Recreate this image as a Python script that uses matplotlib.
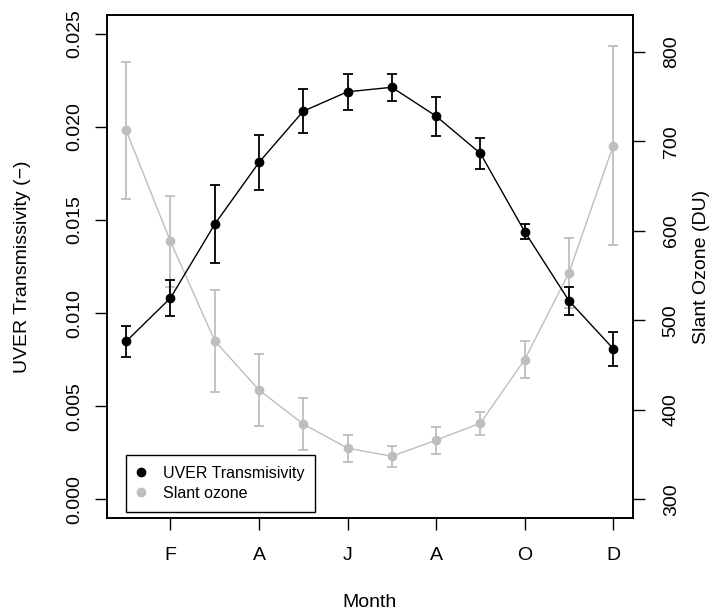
import matplotlib
matplotlib.use("Agg")
import matplotlib.pyplot as plt
from matplotlib.lines import Line2D
import numpy as np

plt.rcParams['font.family'] = ['Liberation Sans', 'DejaVu Sans']

# monthly means (1..12)
months = np.arange(1, 13)
month_ticks = [2, 4, 6, 8, 10, 12]
month_labels = ["F", "A", "J", "A", "O", "D"]

# UVER transmissivity, mean and half-width of the error bar
uver = [0.00848, 0.01081, 0.01477, 0.01809, 0.02084, 0.02188,
        0.02212, 0.02057, 0.01857, 0.01437, 0.01066, 0.00809]
uver_err = [0.00084, 0.00096, 0.00208, 0.00147, 0.00120, 0.00096,
            0.00071, 0.00104, 0.00085, 0.00042, 0.00076, 0.00091]

# slant ozone (DU), mean and half-width of the error bar
ozone = [712, 588, 477, 422, 384, 357, 348, 366, 385, 456, 553, 695]
ozone_err = [77, 51, 57, 40, 29, 15, 12, 15, 13, 21, 39, 111]

left_ticks = [0.000, 0.005, 0.010, 0.015, 0.020, 0.025]
right_ticks = [300, 400, 500, 600, 700, 800]

grey = "#BEBEBE"
fs = 14

fig = plt.figure(figsize=(7.19, 6.15), dpi=100)
ax = fig.add_axes([0.1484, 0.1577, 0.7316, 0.8179])
ax2 = ax.twinx()

# grey series on the right axis (drawn underneath)
ax2.errorbar(months, ozone, yerr=ozone_err, color=grey, marker="o",
             markersize=6, linewidth=1, elinewidth=1.3, capsize=3.6,
             capthick=1.3)
ax2.set_ylim(279, 841)
ax2.set_yticks(right_ticks)
ax2.set_yticklabels([str(t) for t in right_ticks], rotation=90,
                    va="center", fontsize=fs)

# black series on the left axis
ax.errorbar(months, uver, yerr=uver_err, color="black", marker="o",
            markersize=6, linewidth=1, elinewidth=1.3, capsize=3.6,
            capthick=1.3)
ax.set_zorder(ax2.get_zorder() + 1)
ax.patch.set_visible(False)

ax.set_xlim(0.56, 12.44)
ax.set_ylim(-0.001, 0.026)
ax.set_xticks(month_ticks)
ax.set_xticklabels(month_labels, fontsize=fs)
ax.set_yticks(left_ticks)
ax.set_yticklabels(["%.3f" % t for t in left_ticks], rotation=90,
                   va="center", fontsize=fs)

for a in (ax, ax2):
    a.tick_params(length=8.6, width=1, direction="out")
    for s in a.spines.values():
        s.set_linewidth(1.2)
ax.tick_params(axis="x", pad=12)
ax.tick_params(axis="y", pad=8.5)
ax2.tick_params(axis="y", pad=13)

ax.set_xlabel("Month", fontsize=fs)
ax.xaxis.set_label_coords(0.5, -0.167)
ax.xaxis.label.set_verticalalignment("center")
ax.set_ylabel("UVER Transmissivity (\u2212)", fontsize=fs)
ax.yaxis.set_label_coords(-0.161, 0.5)
ax.yaxis.label.set_verticalalignment("center")
ax2.set_ylabel("Slant Ozone (DU)", fontsize=fs)
ax2.yaxis.set_label_coords(1.1317, 0.5)
ax2.yaxis.label.set_verticalalignment("center")

handles = [Line2D([], [], color="black", marker="o", linestyle="none", markersize=6),
           Line2D([], [], color=grey, marker="o", linestyle="none", markersize=6)]
leg = ax.legend(handles, ["UVER Transmisivity", "Slant ozone"],
                loc="lower left", bbox_to_anchor=(0.0367, 0.012),
                borderaxespad=0, fontsize=11.5, fancybox=False,
                edgecolor="black", framealpha=1, borderpad=0.7,
                handlelength=0.44, handletextpad=1.16, labelspacing=0.3)
leg.get_frame().set_linewidth(1)

fig.savefig("out.png", dpi=100)
